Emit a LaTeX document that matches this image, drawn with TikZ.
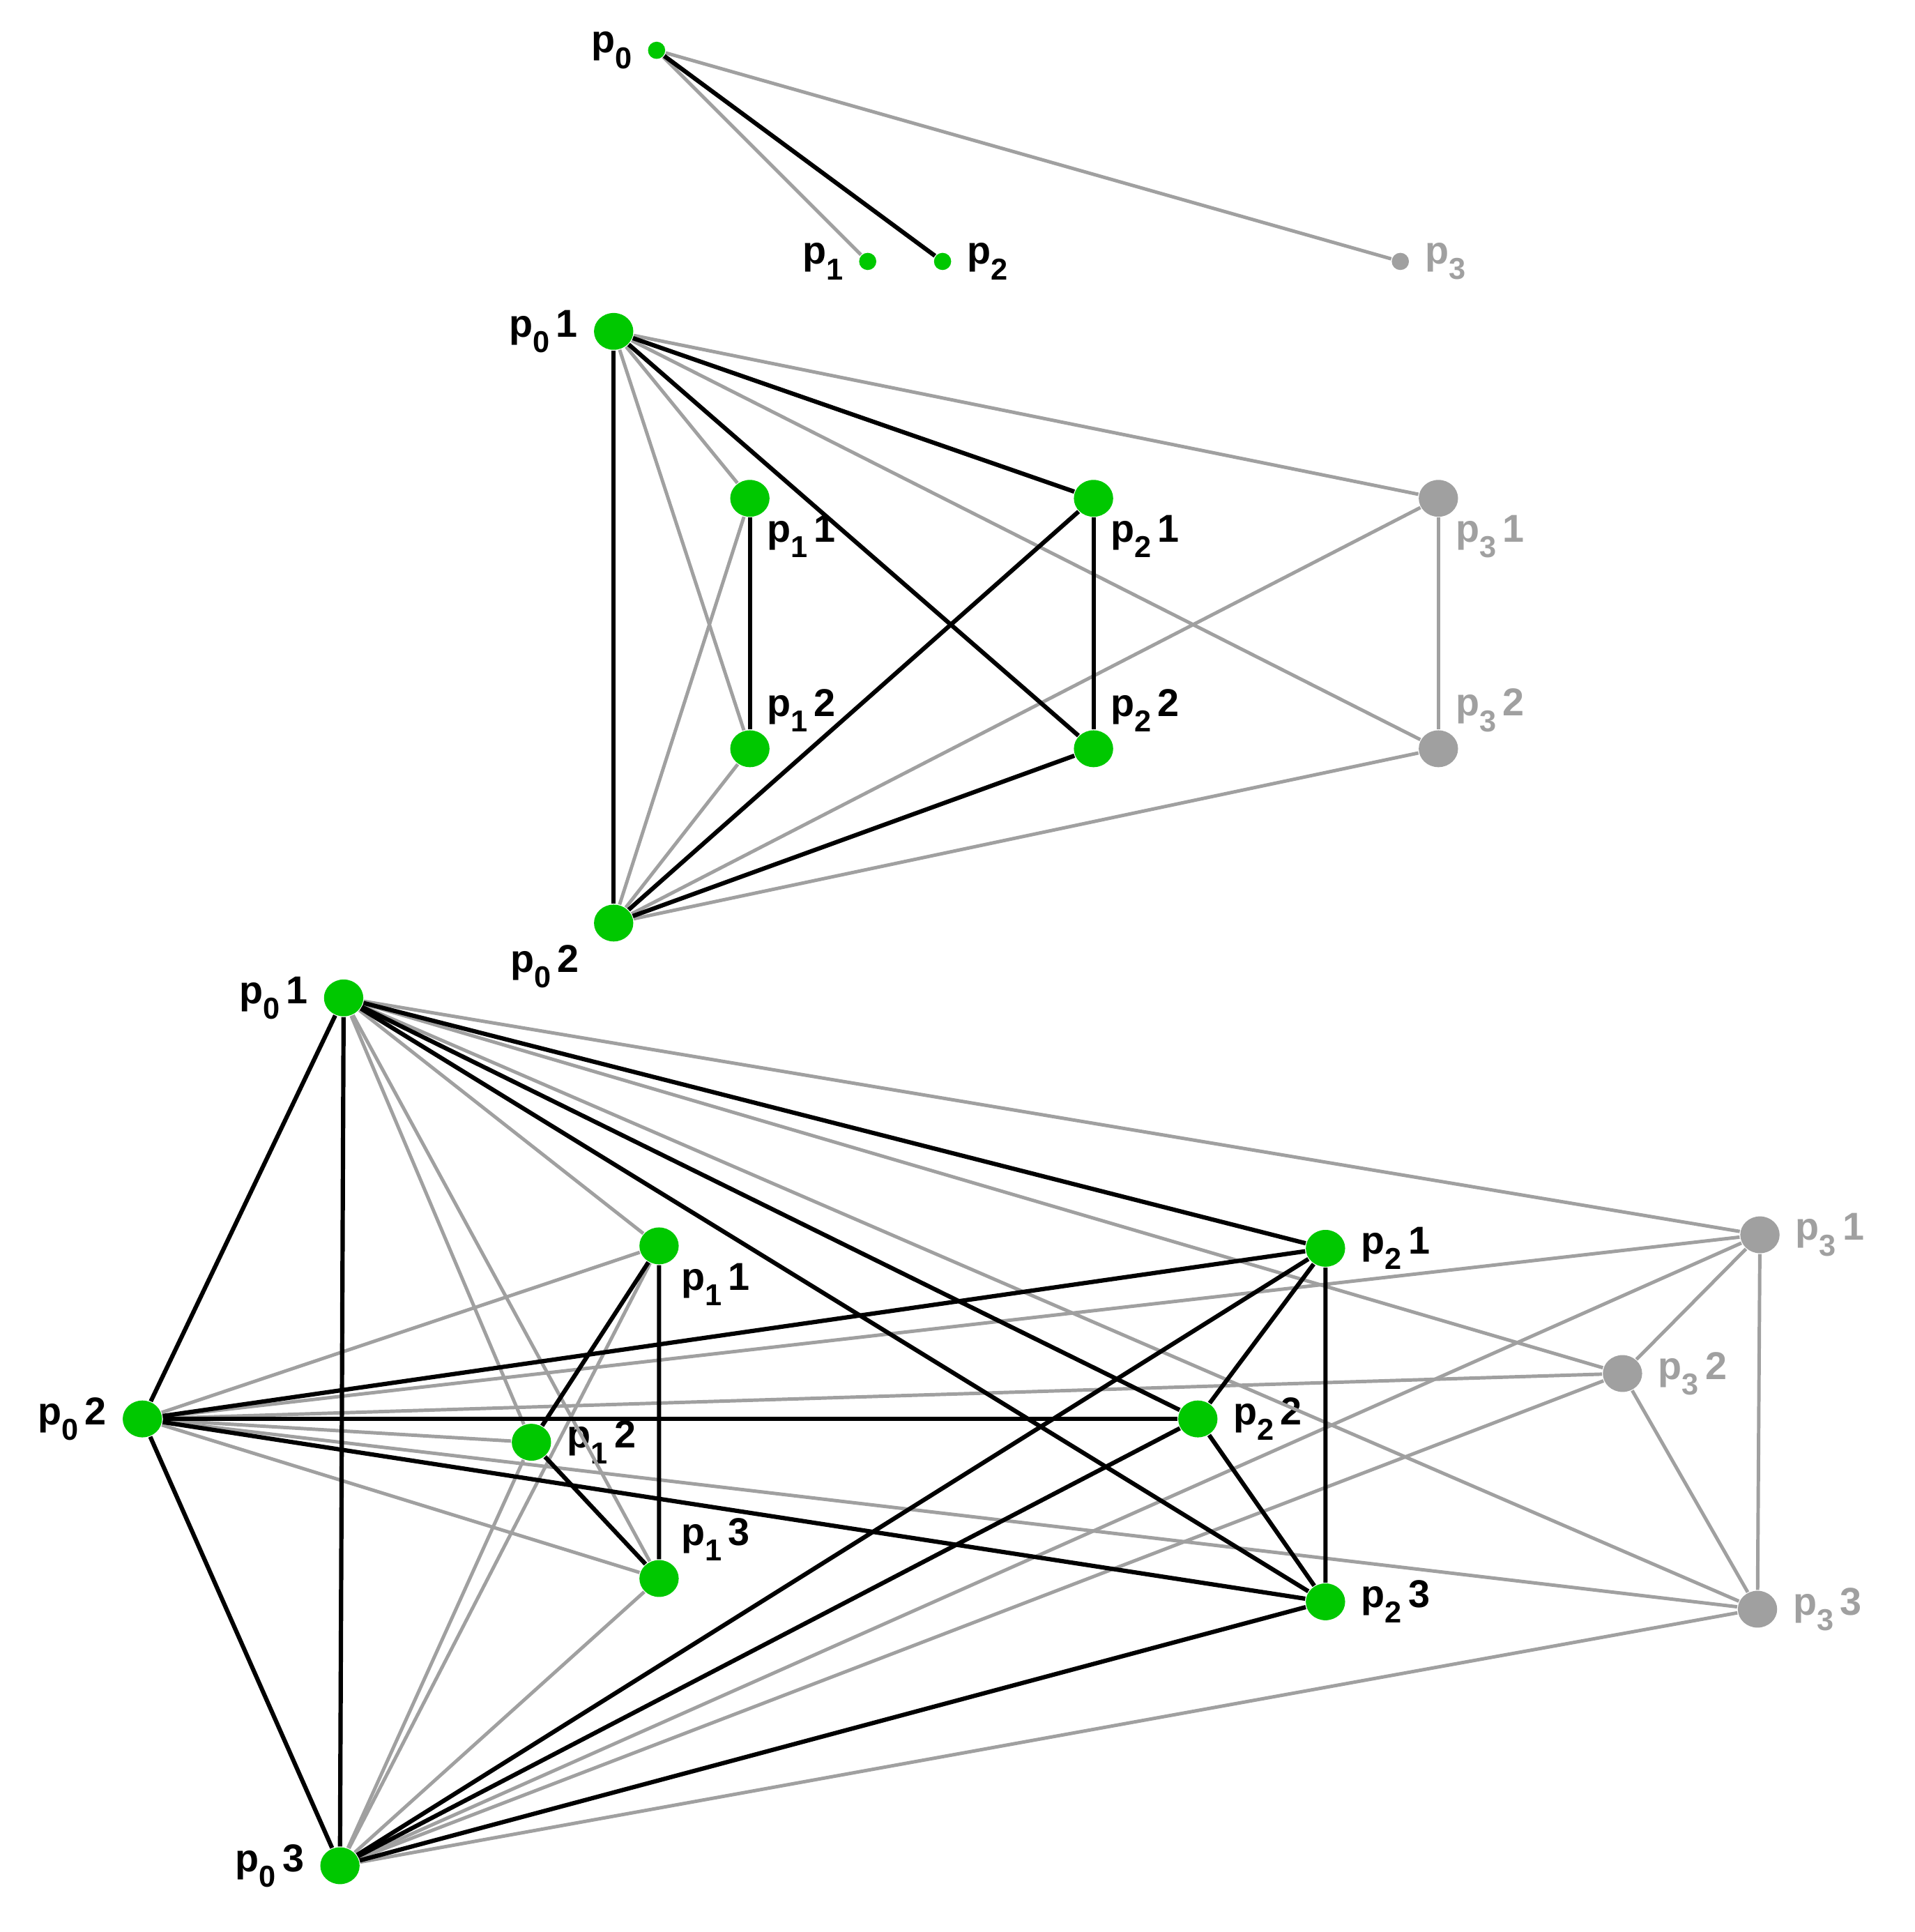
\documentclass[tikz,border=0pt]{standalone}
\usepackage{fontspec}
\setmainfont{Liberation Sans}
\definecolor{vgreen}{RGB}{0,200,0}
\definecolor{vgray}{RGB}{160,160,160}
\tikzset{
  big/.style={ellipse, fill=vgreen, inner sep=0pt, minimum width=0.32cm, minimum height=0.30cm},
  small/.style={circle, fill=vgreen, inner sep=0pt, minimum size=0.14cm},
  off/.style={fill=vgray, text=vgray},
  lab/.style={font=\bfseries\fontsize{9}{10}\selectfont, label distance=0pt},
  on/.style={black, line width=1pt},
  dim/.style={vgray, line width=0.8pt},
}
\usetikzlibrary{shapes.geometric}
\newcommand{\idx}[1]{\raisebox{-0.75ex}{\fontsize{7}{7}\selectfont#1}}
\newcommand{\pl}[2]{p\idx{#1}\,#2}
\begin{document}
\begin{tikzpicture}[x=0.01cm, y=-0.01cm]
\useasboundingbox (0,0) rectangle (1560,1574);

% top
\node[small, label={[lab]left:p\idx{0}}] (p0) at (535,41) {};
\node[small, label={[lab]left:p\idx{1}}] (p1) at (707,213) {};
\node[small, label={[lab]right:p\idx{2}}] (p2) at (768,213) {};
\node[small, off, label={[lab,vgray]right:p\idx{3}}] (p3) at (1141,213) {};
\draw[dim] (p0) -- (p1);
\draw[dim] (p0) -- (p3);
\draw[on] (p0) -- (p2);

% middle
\node[big, label={[lab]left:\pl{0}{1}}] (a1) at (500,270) {};
\node[big, label={[lab]200:\pl{0}{2}}] (a2) at (500,752) {};
\node[big, label={[lab,label distance=-4pt]-40:\pl{1}{1}}] (b1) at (611,406) {};
\node[big, label={[lab,label distance=-4pt]40:\pl{1}{2}}] (b2) at (611,610) {};
\node[big, label={[lab,label distance=-4pt]-40:\pl{2}{1}}] (c1) at (891,406) {};
\node[big, label={[lab,label distance=-4pt]40:\pl{2}{2}}] (c2) at (891,610) {};
\node[big, off, label={[lab,vgray,label distance=-4pt]-40:\pl{3}{1}}] (d1) at (1172,406) {};
\node[big, off, label={[lab,vgray,label distance=-4pt]40:\pl{3}{2}}] (d2) at (1172,610) {};
\foreach \u in {a1,a2}
  \foreach \v in {b1,b2,d1,d2}
    \draw[dim] (\u) -- (\v);
\draw[dim] (d1) -- (d2);
\foreach \u in {a1,a2}
  \foreach \v in {c1,c2}
    \draw[on] (\u) -- (\v);
\draw[on] (a1) -- (a2);
\draw[on] (b1) -- (b2);
\draw[on] (c1) -- (c2);

% bottom
\node[big, label={[lab]left:\pl{0}{1}}] (A1) at (280,813) {};
\node[big, label={[lab]left:\pl{0}{2}}] (A2) at (116,1156) {};
\node[big, label={[lab]left:\pl{0}{3}}] (A3) at (277,1520) {};
\node[big, label={[lab,label distance=-3pt]-20:\pl{1}{1}}] (B1) at (537,1015) {};
\node[big, label={[lab]right:\pl{1}{2}}] (B2) at (433,1175) {};
\node[big, label={[lab,label distance=-3pt]20:\pl{1}{3}}] (B3) at (537,1286) {};
\node[big, label={[lab]right:\pl{2}{1}}] (C1) at (1080,1017) {};
\node[big, label={[lab]right:\pl{2}{2}}] (C2) at (976,1156) {};
\node[big, label={[lab]right:\pl{2}{3}}] (C3) at (1080,1305) {};
\node[big, off, label={[lab,vgray]right:\pl{3}{1}}] (D1) at (1434,1006) {};
\node[big, off, label={[lab,vgray]right:\pl{3}{2}}] (D2) at (1322,1119) {};
\node[big, off, label={[lab,vgray]right:\pl{3}{3}}] (D3) at (1432,1311) {};
\foreach \u in {A1,A2,A3}
  \foreach \v in {B1,B2,B3,D1,D2,D3}
    \draw[dim] (\u) -- (\v);
\draw[dim] (D1) -- (D2) -- (D3) -- (D1);
\foreach \u in {A1,A2,A3}
  \foreach \v in {C1,C2,C3}
    \draw[on] (\u) -- (\v);
\draw[on] (A1) -- (A2) -- (A3) -- (A1);
\draw[on] (B1) -- (B2) -- (B3) -- (B1);
\draw[on] (C1) -- (C2) -- (C3) -- (C1);
\end{tikzpicture}
\end{document}
